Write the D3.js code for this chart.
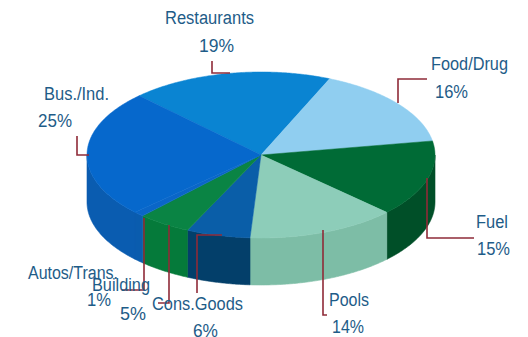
<!DOCTYPE html>
<html>
<head>
<meta charset="utf-8">
<script src="https://cdn.jsdelivr.net/npm/d3@7"></script>
<style>
html, body { margin: 0; padding: 0; background: #fff; }
svg { display: block; }
text { font-family: "Liberation Sans", sans-serif; fill: #1e5c88; font-size: 18px; }
</style>
</head>
<body>
<svg id="chart" width="528" height="337"></svg>
<script>
// Segment names and their shares, clockwise from the back left of the pie
const categories = ["Restaurants", "Food/Drug", "Fuel", "Pools", "Cons.Goods", "Building", "Autos/Trans.", "Bus./Ind."];
const shares = [19, 16, 15, 14, 6, 5, 1, 25];
const topColors = ["#0a84d2", "#90cef0", "#006b36", "#8dcdb9", "#0a5ea8", "#0a8444", "#0a66c8", "#0668cc"];
const sideColors = ["#0a70b8", "#78b8dc", "#004f28", "#7dbda6", "#033f6a", "#057a3a", "#0a5cae", "#0a5cb0"];

// Pie geometry: a tilted disc drawn as an ellipse with an extruded rim
const centre = { x: 261, y: 155 };
const radius = { x: 174, y: 83 };
const depth = 47;
const startAngle = -44.5 * Math.PI / 180;

// Label placement, condensed text widths and leader routes for each segment
const labelLayout = {
  "Restaurants":  { name: [165, 24, 89], pct: [199, 52, 35], leader: [[212, 61], [212, 73], [230, 73]] },
  "Food/Drug":    { name: [431, 70, 77], pct: [435, 98, 33], leader: [[427, 79], [398, 79], [398, 103]] },
  "Fuel":         { name: [476, 228, 32], pct: [477, 255, 33], leader: [[427, 178], [427, 238], [474, 238]] },
  "Pools":        { name: [329, 306, 40], pct: [332, 333, 32], leader: [[323, 230], [323, 315], [327, 315]] },
  "Cons.Goods":   { name: [152, 310, 91], pct: [193, 337, 25], leader: [[222, 235], [197, 235], [197, 293]] },
  "Building":     { name: [92, 291, 58], pct: [120, 320, 26], leader: [[169, 225], [169, 303], [158, 303]] },
  "Autos/Trans.": { name: [28, 279, 90], pct: [87, 306, 24], leader: [[144, 218], [144, 290], [122, 290]] },
  "Bus./Ind.":    { name: [44, 100, 65], pct: [38, 127, 34], leader: [[77, 136], [77, 155], [89, 155]] }
};

const svg = d3.select("#chart");

const x = d3.scaleLinear().domain([-1, 1]).range([centre.x - radius.x, centre.x + radius.x]);
const y = d3.scaleLinear().domain([-1, 1]).range([centre.y - radius.y, centre.y + radius.y]);

const arcs = d3.pie().sort(null)
  .startAngle(startAngle)
  .endAngle(startAngle + 2 * Math.PI)(shares);

// Angle measured clockwise from the top of the ellipse
const rimPoint = t => [x(Math.sin(t)), y(-Math.cos(t))];

// The rim is visible only along the front half of the ellipse
const frontFrom = Math.PI / 2, frontTo = 3 * Math.PI / 2;

function rimBand(a0, a1) {
  const lo = Math.max(a0, frontFrom), hi = Math.min(a1, frontTo);
  if (hi <= lo) return null;
  const steps = d3.range(lo, hi, 0.01).concat(hi);
  const upper = steps.map(rimPoint);
  const lower = upper.map(p => [p[0], p[1] + depth]).reverse();
  return d3.line()(upper.concat(lower)) + "Z";
}

function wedge(a0, a1) {
  const steps = d3.range(a0, a1, 0.01).concat(a1);
  return d3.line()([[x(0), y(0)]].concat(steps.map(rimPoint))) + "Z";
}

const sides = svg.append("g");
arcs.forEach((d, i) => {
  const p = rimBand(d.startAngle, d.endAngle);
  if (p) sides.append("path").attr("d", p)
    .attr("fill", sideColors[i]).attr("stroke", sideColors[i]).attr("stroke-width", 0.6);
});

svg.append("g").selectAll("path").data(arcs).join("path")
  .attr("d", d => wedge(d.startAngle, d.endAngle))
  .attr("fill", (d, i) => topColors[i])
  .attr("stroke", (d, i) => topColors[i])
  .attr("stroke-width", 0.5);

// Leaders run over the pie, then the labels on top of them
svg.append("g").selectAll("path").data(categories).join("path")
  .attr("d", c => d3.line()(labelLayout[c].leader))
  .attr("fill", "none")
  .attr("stroke", "#8f2b38")
  .attr("stroke-width", 1.6);

const labels = svg.append("g");
const addLabel = (pos, str) => labels.append("text")
  .attr("x", pos[0]).attr("y", pos[1])
  .attr("textLength", pos[2]).attr("lengthAdjust", "spacingAndGlyphs")
  .text(str);
categories.forEach((c, i) => {
  addLabel(labelLayout[c].name, c);
  addLabel(labelLayout[c].pct, shares[i] + "%");
});
</script>
</body>
</html>
